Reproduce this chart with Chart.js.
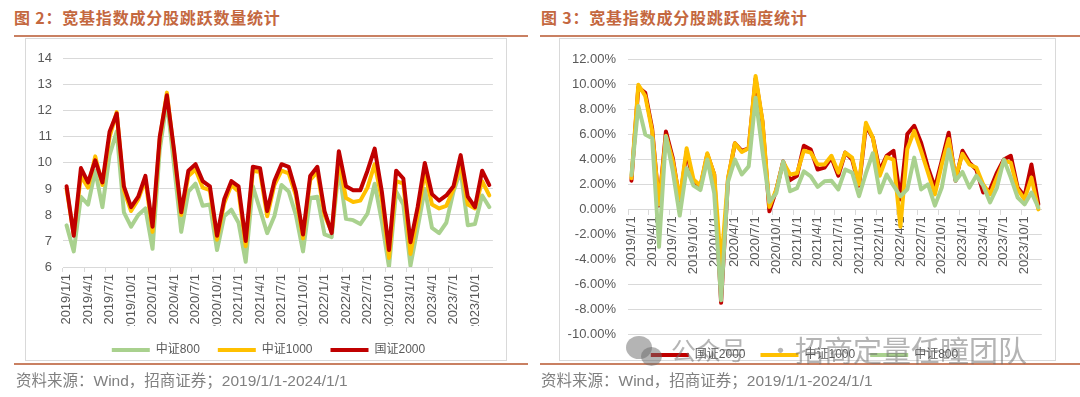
<!DOCTYPE html>
<html>
<head>
<meta charset="utf-8">
<script src="https://cdn.jsdelivr.net/npm/chart.js@4.4.1/dist/chart.umd.min.js"></script>
<style>
  body { margin: 0; width: 1080px; height: 397px; background: #fff; position: relative; overflow: hidden;
         font-family: "Liberation Sans", "Noto Sans CJK SC", sans-serif; }
  .title { position: absolute; top: 5px; font-size: 16px; font-weight: bold; color: #c4683f;
           letter-spacing: 0.8px; font-family: "Noto Sans CJK SC", sans-serif; }
  .rule { position: absolute; height: 2px; background: #c98062; }
  .box { position: absolute; top: 38px; height: 323px; border: 1px solid #d9d9d9; box-sizing: border-box; }
  .src { position: absolute; top: 368px; font-size: 15.5px; color: #808080; white-space: nowrap; }
  canvas { position: absolute; }
  .wm { position: absolute; color: rgba(105,105,105,0.5); font-family: "Noto Sans CJK SC", sans-serif;
        white-space: nowrap; z-index: 5; }
  .bub { position: absolute; border-radius: 50%; background: rgba(105,105,105,0.5); z-index: 5; }
</style>
</head>
<body>
<div class="title" style="left:14px">图 2：宽基指数成分股跳跃数量统计</div>
<div class="rule" style="left:14px; width:514px; top:35px"></div>
<div class="box" style="left:25px; width:482px"></div>
<canvas id="cnt" width="482" height="326" style="left:25px; top:40px"></canvas>
<div class="rule" style="left:14px; width:514px; top:363px"></div>
<div class="src" style="left:16px">资料来源：Wind，招商证券；2019/1/1-2024/1/1</div>

<div class="title" style="left:541px">图 3：宽基指数成分股跳跃幅度统计</div>
<div class="rule" style="left:540px; width:540px; top:35px"></div>
<div class="box" style="left:559px; width:497px"></div>
<canvas id="amp" width="497" height="331" style="left:559px; top:40px"></canvas>
<div class="rule" style="left:540px; width:540px; top:363px"></div>
<div class="src" style="left:541px">资料来源：Wind，招商证券；2019/1/1-2024/1/1</div>

<div class="bub" style="left:626px; top:336px; width:26px; height:23px"></div>
<div class="bub" style="left:641px; top:347px; width:21px; height:19px"></div>
<div class="wm" style="left:671px; top:331px; font-size:25px">公众号</div>
<div class="wm" style="left:768px; top:331px; font-size:25px">·</div>
<div class="wm" style="left:795px; top:328px; font-size:29px">招商定量任瞳团队</div>

<script>
// monthly categories 2019/1 - 2023/12
var months = [
  "2019/1/1","2019/2/1","2019/3/1","2019/4/1","2019/5/1","2019/6/1","2019/7/1","2019/8/1","2019/9/1","2019/10/1","2019/11/1","2019/12/1",
  "2020/1/1","2020/2/1","2020/3/1","2020/4/1","2020/5/1","2020/6/1","2020/7/1","2020/8/1","2020/9/1","2020/10/1","2020/11/1","2020/12/1",
  "2021/1/1","2021/2/1","2021/3/1","2021/4/1","2021/5/1","2021/6/1","2021/7/1","2021/8/1","2021/9/1","2021/10/1","2021/11/1","2021/12/1",
  "2022/1/1","2022/2/1","2022/3/1","2022/4/1","2022/5/1","2022/6/1","2022/7/1","2022/8/1","2022/9/1","2022/10/1","2022/11/1","2022/12/1",
  "2023/1/1","2023/2/1","2023/3/1","2023/4/1","2023/5/1","2023/6/1","2023/7/1","2023/8/1","2023/9/1","2023/10/1","2023/11/1","2023/12/1"
];

// fig 2: jump counts
var csi800Count = [
  7.6, 6.6, 8.7, 8.4, 9.7, 8.3, 10.3, 11.2, 8.1, 7.55, 8.0, 8.25,
  6.7, 10.5, 12.4, 9.9, 7.35, 8.9, 9.2, 8.35, 8.4, 6.65, 7.95, 8.2,
  7.7, 6.2, 9.1, 8.2, 7.3, 7.95, 9.15, 8.9, 8.0, 6.6, 8.65, 8.7,
  7.25, 7.15, 9.8, 7.85, 7.8, 7.65, 8.05, 9.2, 7.75, 6.0, 8.9, 8.4,
  6.05, 7.5, 9.0, 7.5, 7.3, 7.7, 8.9, 9.7, 7.6, 7.65, 8.75, 8.3
];
var csi1000Count = [
  9.0, 7.25, 9.5, 9.05, 10.25, 9.15, 11.0, 11.95, 8.95, 8.15, 8.6, 9.35,
  7.35, 10.9, 12.7, 10.4, 8.0, 9.5, 9.75, 9.05, 8.95, 7.05, 8.45, 9.15,
  8.9, 6.8, 9.7, 9.65, 7.95, 9.15, 9.7, 9.6, 8.75, 7.1, 9.35, 9.65,
  8.0, 7.35, 10.1, 8.65, 8.5, 8.55, 9.05, 9.95, 8.6, 6.35, 9.3, 9.2,
  6.5, 8.0, 9.65, 8.4, 8.25, 8.35, 9.0, 9.95, 8.4, 8.25, 9.3, 8.75
];
var gz2000Count = [
  9.1, 7.2, 9.8, 9.25, 10.1, 9.25, 11.2, 11.9, 9.1, 8.3, 8.7, 9.5,
  7.55, 11.0, 12.6, 10.5, 8.1, 9.7, 9.95, 9.3, 9.1, 7.2, 8.6, 9.3,
  9.1, 7.0, 9.85, 9.8, 8.15, 9.3, 9.95, 9.85, 8.9, 7.25, 9.5, 9.85,
  8.15, 7.3, 10.45, 9.1, 8.95, 8.95, 9.7, 10.55, 8.9, 6.65, 9.7, 9.4,
  6.95, 8.3, 10.0, 8.8, 8.55, 8.75, 9.1, 10.3, 8.7, 8.3, 9.7, 9.15
];

// fig 3: jump amplitude, %
var gz2000Amp = [
  2.3, 9.8, 9.35, 6.5, 0.3, 6.25, 4.1, 0.6, 4.65, 2.1, 1.8, 4.4,
  2.8, -7.5, 2.4, 5.3, 4.7, 4.9, 10.5, 7.0, -0.15, 1.55, 3.85, 2.35,
  2.7, 5.1, 4.8, 3.2, 3.35, 4.15, 2.7, 4.55, 4.0, 1.9, 6.7, 5.75,
  3.1, 4.3, 4.7, 0.8, 6.05, 6.7, 5.35, 3.35, 1.75, 3.9, 6.15, 2.3,
  4.7, 3.75, 3.2, 1.35, 1.6, 2.95, 4.0, 4.3, 1.75, 1.05, 3.6, 0.4
];
var csi1000Amp = [
  2.5, 10.0, 9.1, 6.3, 0.4, 5.9, 3.9, 0.8, 4.9, 2.4, 1.9, 4.5,
  2.8, -4.5, 2.5, 5.3, 4.6, 4.9, 10.7, 7.1, 0.2, 1.6, 3.8, 2.8,
  2.9, 4.7, 4.55, 3.6, 3.6, 4.3, 2.95, 4.55, 4.15, 2.0, 6.95, 5.75,
  2.7, 4.2, 4.0, -1.4, 4.85, 6.3, 4.7, 2.95, 1.2, 3.6, 5.65, 2.55,
  4.45, 3.6, 3.35, 2.0, 1.2, 2.55, 3.9, 3.75, 1.6, 0.8, 2.55, 0.0
];
var csi800Amp = [
  2.75, 8.3, 6.0, 5.7, -3.0, 5.85, 3.05, -0.5, 3.3, 1.9, 1.55, 4.0,
  1.3, -7.3, 2.2, 4.0, 2.8, 3.45, 8.95, 4.65, 0.6, 1.3, 3.85, 1.45,
  1.7, 3.05, 2.65, 1.8, 2.25, 2.3, 1.6, 3.2, 2.95, 1.05, 2.9, 4.5,
  1.35, 2.8, 1.9, 1.05, 1.6, 4.15, 1.6, 2.0, 0.3, 1.75, 4.8, 2.3,
  3.0, 1.75, 2.7, 1.9, 0.55, 1.75, 4.0, 2.55, 0.95, 0.4, 1.35, 0.15
];

var GREEN = "#a9d18e", YELLOW = "#ffc000", RED = "#c00000";
var GRID = "#d9d9d9", TXT = "#595959";

function line(label, data, color, order) {
  return {
    label: label, data: data, order: order,
    borderColor: color, backgroundColor: color, borderWidth: 4,
    pointRadius: 0, tension: 0, fill: false,
    borderJoinStyle: "round", borderCapStyle: "round"
  };
}

// category axis: tick marks between months, a label every 3rd month
function xAxis(extra) {
  var ax = {
    offset: true,
    grid: {
      offset: true, drawOnChartArea: false, drawTicks: true, tickLength: 5,
      color: function (c) { return c.index % 3 === 0 ? GRID : "rgba(0,0,0,0)"; }
    },
    border: { color: GRID, width: 1 },
    ticks: {
      autoSkip: false, minRotation: 90, maxRotation: 90, padding: 2,
      color: TXT, font: { size: 13 },
      callback: function (v, i) { return i % 3 === 0 ? this.getLabelForValue(v) : ""; }
    }
  };
  return Object.assign(ax, extra);
}

function legendOpts(pad) {
  return {
    position: "bottom",
    labels: {
      boxWidth: 38, boxHeight: 4, padding: pad, color: TXT, font: { size: 12 },
      sort: function (a, b) { return a.datasetIndex - b.datasetIndex; },
      generateLabels: function (chart) {
        return Chart.defaults.plugins.legend.labels.generateLabels(chart).map(function (l) {
          l.lineWidth = 0; l.fillStyle = l.strokeStyle; return l;
        });
      }
    }
  };
}

// nudge the legend sideways after layout (px)
function legendShift(dx) {
  return {
    id: "legendShift",
    afterLayout: function (chart) {
      if (chart.legend) { chart.legend.left += dx; }
    }
  };
}

Chart.defaults.font.family = '"Liberation Sans", "Noto Sans CJK SC", sans-serif';

// Fig 2
new Chart(document.getElementById("cnt"), {
  type: "line",
  data: {
    labels: months,
    datasets: [
      line("中证800", csi800Count, GREEN, 2),
      line("中证1000", csi1000Count, YELLOW, 1),
      line("国证2000", gz2000Count, RED, 0)
    ]
  },
  options: {
    responsive: false, animation: false, events: [],
    layout: { padding: { top: 13, right: 12, left: 0, bottom: 0 } },
    scales: {
      x: xAxis({ afterFit: function (s) { s.height = 59; } }),
      y: {
        min: 6, max: 14,
        ticks: { stepSize: 1, padding: 11, color: TXT, font: { size: 13 } },
        grid: { color: GRID, drawTicks: false },
        border: { display: false },
        afterFit: function (s) { s.width = 38; }
      }
    },
    plugins: { legend: legendOpts(18), tooltip: { enabled: false } }
  },
  plugins: [legendShift(17)]
});

// Fig 3
new Chart(document.getElementById("amp"), {
  type: "line",
  data: {
    labels: months,
    datasets: [
      line("国证2000", gz2000Amp, RED, 2),
      line("中证1000", csi1000Amp, YELLOW, 1),
      line("中证800", csi800Amp, GREEN, 0)
    ]
  },
  options: {
    responsive: false, animation: false, events: [],
    layout: { padding: { top: 13, right: 6, left: 0, bottom: 0 } },
    scales: {
      x: xAxis({ position: { y: 0 } }),
      y: {
        min: -10, max: 12,
        ticks: { stepSize: 2, padding: 12, color: TXT, font: { size: 13 },
                 callback: function (v) { return v.toFixed(2) + "%"; } },
        grid: { color: GRID, drawTicks: false },
        border: { display: false },
        afterFit: function (s) { s.width = 69; }
      }
    },
    plugins: { legend: legendOpts(15), tooltip: { enabled: false } }
  }
});
</script>
</body>
</html>
